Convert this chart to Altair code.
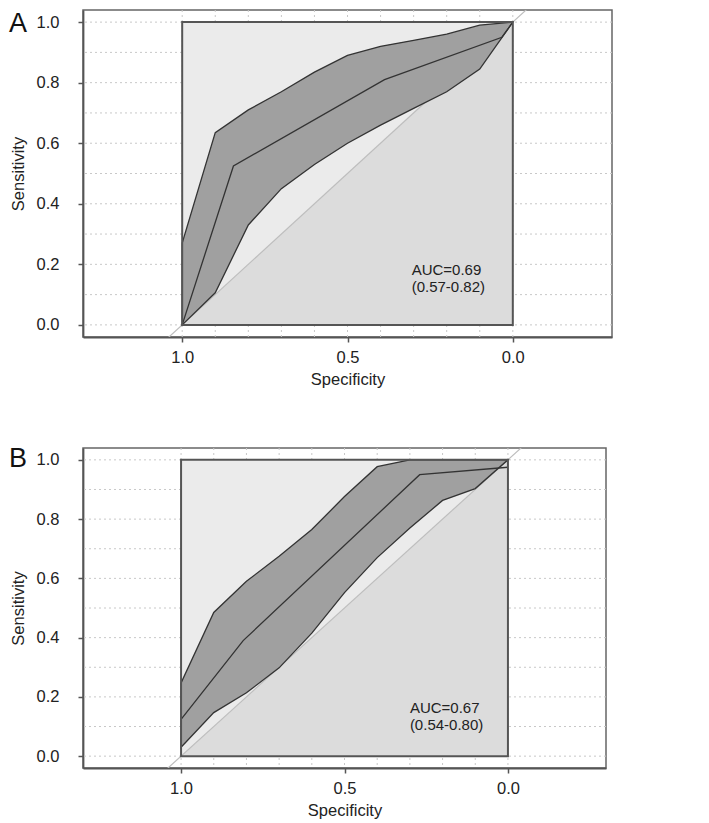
import altair as alt
import pandas as pd

# ---- data ----
spec_pts = [1.0, 0.9, 0.8, 0.7, 0.6, 0.5, 0.4, 0.3, 0.2, 0.1, 0.0]

a_upper = [0.27, 0.635, 0.71, 0.77, 0.835, 0.89, 0.92, 0.94, 0.96, 0.99, 1.0]
a_lower = [0.0, 0.106, 0.33, 0.45, 0.53, 0.60, 0.66, 0.715, 0.77, 0.845, 1.0]
a_med_spec = [1.0, 0.845, 0.388, 0.033, 0.0]
a_med_sens = [0.0, 0.525, 0.81, 0.95, 1.0]
a_auc = ["AUC=0.69", "(0.57-0.82)"]

b_upper = [0.247, 0.485, 0.59, 0.675, 0.765, 0.876, 0.977, 1.0, 1.0, 1.0, 1.0]
b_lower = [0.03, 0.147, 0.214, 0.298, 0.415, 0.552, 0.67, 0.77, 0.863, 0.903, 1.0]
b_med_spec = [1.0, 0.81, 0.27, 0.0]
b_med_sens = [0.124, 0.39, 0.95, 0.975]
b_auc = ["AUC=0.67", "(0.54-0.80)"]

grid_vals = [0.0, 0.1, 0.2, 0.3, 0.4, 0.5, 0.6, 0.7, 0.8, 0.9, 1.0]
sens_ticks = [0.0, 0.2, 0.4, 0.6, 0.8, 1.0]
spec_ticks = [1.0, 0.5, 0.0]
x_domain = [-0.3, 1.3]
y_domain = [-0.04, 1.04]

# chance line sens = 1 - spec, and the unit box split by it
chance_spec = [1.3, -0.3]
chance_sens = [-0.3, 1.3]
box_spec = [1.0, 0.0]
box_bottom = [0.0, 0.0]
box_diag = [0.0, 1.0]
box_top = [1.0, 1.0]

FONT = "Liberation Sans"


def panel(letter, upper, lower, med_spec, med_sens, auc, w, h, auc_pos, letter_dy):
    xs = alt.Scale(domain=x_domain, reverse=True, nice=False, zero=False)
    ys = alt.Scale(domain=y_domain, nice=False, zero=False)
    x_axis = alt.Axis(values=spec_ticks, format=".1f", title="Specificity",
                      grid=False, tickSize=5, labelPadding=7, titlePadding=6)
    y_axis = alt.Axis(values=sens_ticks, format=".1f", title="Sensitivity",
                      grid=False, tickSize=5, labelPadding=19, titlePadding=10,
                      labelAngle=0)
    X = lambda f="spec": alt.X(f + ":Q", scale=xs, axis=x_axis)
    Y = lambda f="sens": alt.Y(f + ":Q", scale=ys, axis=y_axis)

    hgrid = alt.Chart(pd.DataFrame({"sens": grid_vals})).mark_rule(
        color="#c8c8c8", strokeDash=[2, 3], strokeWidth=1).encode(y=Y())
    vgrid = alt.Chart(pd.DataFrame({"spec": grid_vals})).mark_rule(
        color="#c8c8c8", strokeDash=[2, 3], strokeWidth=1).encode(x=X())

    lower_tri = alt.Chart(pd.DataFrame({"spec": box_spec, "sens": box_bottom, "sens2": box_diag})).mark_area(
        color="#dcdcdc", opacity=1).encode(x=X(), y=Y(), y2="sens2:Q")
    upper_tri = alt.Chart(pd.DataFrame({"spec": box_spec, "sens": box_diag, "sens2": box_top})).mark_area(
        color="#ebebeb", opacity=1).encode(x=X(), y=Y(), y2="sens2:Q")

    chance = alt.Chart(pd.DataFrame({"spec": chance_spec, "sens": chance_sens})).mark_line(
        color="#bdbdbd", strokeWidth=1.2, clip=True).encode(x=X(), y=Y())

    band = alt.Chart(pd.DataFrame({"spec": spec_pts, "sens": lower, "sens2": upper})).mark_area(
        color="#a0a0a0", opacity=1, stroke="#333333", strokeWidth=1.3).encode(
        x=X(), y=Y(), y2="sens2:Q")

    med = alt.Chart(pd.DataFrame({"spec": med_spec, "sens": med_sens})).mark_line(
        color="#333333", strokeWidth=1.3).encode(x=X(), y=Y())

    box = alt.Chart(pd.DataFrame({"spec": [1.0], "spec2": [0.0], "sens": [0.0], "sens2": [1.0]})).mark_rect(
        fillOpacity=0, stroke="#555555", strokeWidth=2).encode(
        x=X(), x2="spec2:Q", y=Y(), y2="sens2:Q")

    auc_txt = alt.Chart(pd.DataFrame({"t": ["\n".join(auc)]})).mark_text(
        align="left", baseline="top", font=FONT, fontSize=15, color="#222222",
        lineBreak="\n", lineHeight=17).encode(
        x=alt.X(datum=auc_pos[0], scale=xs, axis=x_axis),
        y=alt.Y(datum=auc_pos[1], scale=ys, axis=y_axis), text="t:N")

    letter_txt = alt.Chart(pd.DataFrame({"t": [letter]})).mark_text(
        align="left", baseline="alphabetic", font=FONT, fontSize=27, color="#111111").encode(
        x=alt.value(-74), y=alt.value(letter_dy), text="t:N")

    return alt.layer(hgrid, vgrid, lower_tri, upper_tri, chance, band, med, box,
                     auc_txt, letter_txt).properties(width=w, height=h)


pa = panel("A", a_upper, a_lower, a_med_spec, a_med_sens, a_auc, 529, 327, (0.306, 0.205), 22)
pb = panel("B", b_upper, b_lower, b_med_spec, b_med_sens, b_auc, 523, 320, (0.30, 0.185), 19)

chart = alt.vconcat(pa, pb, spacing=55).properties(padding=0).configure_view(
    stroke="#666666", strokeWidth=1.5
).configure_axis(
    labelFont=FONT, titleFont=FONT, labelFontSize=16.5, titleFontSize=16.5,
    labelColor="#222222", titleColor="#222222", titleFontWeight="normal",
    domainColor="#555555", domainWidth=1.8, tickColor="#555555", tickWidth=1.5
)

chart.save("out.html", embed_options={"renderer": "svg", "actions": False})
